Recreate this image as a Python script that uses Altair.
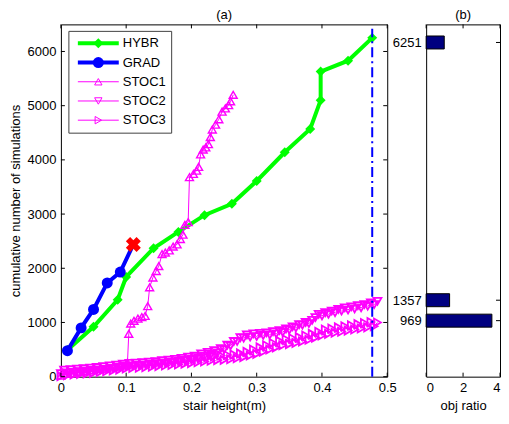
import altair as alt
import pandas as pd

# ---------------- data ----------------
HYBR_X = [0.010, 0.050, 0.087, 0.100, 0.142, 0.180, 0.220, 0.262, 0.300, 0.343, 0.382, 0.398, 0.398, 0.440, 0.477]
HYBR_Y = [490, 920, 1420, 1840, 2370, 2670, 2980, 3190, 3610, 4140, 4570, 5100, 5630, 5830, 6251]

GRAD_X = [0.010, 0.031, 0.050, 0.071, 0.091]
GRAD_Y = [480, 900, 1240, 1730, 1930]
GRAD_END_X = [0.111]
GRAD_END_Y = [2440]

STOC1_X = [0.000, 0.010, 0.020, 0.030, 0.040, 0.050, 0.060, 0.070, 0.080, 0.090,
           0.100, 0.102, 0.104, 0.107, 0.112, 0.118, 0.124, 0.129, 0.133, 0.136,
           0.141, 0.146, 0.150, 0.155, 0.160, 0.166, 0.172, 0.178, 0.183, 0.187,
           0.190, 0.195, 0.197, 0.203, 0.208, 0.211, 0.214, 0.218, 0.222, 0.226,
           0.229, 0.232, 0.237, 0.242, 0.247, 0.252, 0.257, 0.260, 0.264]
STOC1_Y = [20, 50, 60, 90, 100, 120, 140, 150, 170, 190,
           210, 260, 790, 980, 1030, 1070, 1100, 1120, 1300, 1650,
           1830, 1950, 2040, 2260, 2290, 2330, 2400, 2440, 2540, 2620,
           2800, 2850, 3680, 3740, 3800, 3870, 4100, 4190, 4230, 4290,
           4420, 4560, 4650, 4750, 4890, 4950, 5010, 5080, 5200]

STOC_X = [0.000, 0.005, 0.010, 0.015, 0.020, 0.025, 0.030, 0.035, 0.040, 0.045,
          0.050, 0.055, 0.060, 0.065, 0.070, 0.075, 0.080, 0.085, 0.090, 0.095,
          0.100, 0.105, 0.110, 0.115, 0.120, 0.125, 0.130, 0.135, 0.140, 0.145,
          0.150, 0.155, 0.160, 0.165, 0.170, 0.175, 0.180, 0.185, 0.190, 0.195,
          0.200, 0.205, 0.210, 0.215, 0.220, 0.225, 0.230, 0.235, 0.240, 0.245,
          0.250, 0.255, 0.260, 0.265, 0.270, 0.275, 0.280, 0.285, 0.290, 0.295,
          0.300, 0.305, 0.310, 0.315, 0.320, 0.325, 0.330, 0.335, 0.340, 0.345,
          0.350, 0.355, 0.360, 0.365, 0.370, 0.375, 0.380, 0.385, 0.390, 0.395,
          0.400, 0.405, 0.410, 0.415, 0.420, 0.425, 0.430, 0.435, 0.440, 0.445,
          0.450, 0.455, 0.460, 0.465, 0.470, 0.475, 0.480, 0.485]
STOC2_Y = [55, 120, 70, 130, 85, 140, 95, 150, 105, 160,
           115, 170, 125, 185, 140, 200, 155, 215, 170, 230,
           190, 245, 200, 250, 210, 260, 220, 270, 230, 280,
           240, 295, 255, 305, 270, 320, 285, 340, 300, 360,
           320, 380, 350, 420, 380, 450, 410, 480, 440, 520,
           500, 580, 570, 650, 650, 720, 710, 770, 730, 790,
           740, 800, 760, 810, 770, 830, 790, 850, 820, 880,
           860, 920, 900, 960, 950, 1000, 980, 1040, 1090, 1150,
           1120, 1180, 1150, 1210, 1180, 1240, 1210, 1270, 1230, 1290,
           1250, 1310, 1270, 1330, 1300, 1360, 1330, 1390]
STOC3_Y = [10, 80, 25, 95, 40, 105, 50, 115, 60, 125,
           70, 135, 85, 150, 100, 165, 115, 180, 130, 195,
           150, 205, 160, 215, 165, 225, 175, 235, 185, 245,
           195, 255, 205, 265, 215, 275, 225, 290, 240, 305,
           250, 320, 265, 335, 280, 355, 295, 375, 305, 390,
           310, 400, 320, 410, 340, 430, 360, 460, 390, 500,
           420, 540, 460, 580, 500, 620, 540, 660, 580, 690,
           600, 710, 620, 730, 650, 760, 680, 790, 720, 830,
           760, 870, 790, 890, 810, 910, 830, 930, 850, 950,
           870, 970, 890, 990, 910, 1010, 930, 1000]

VLINE_X = [0.477]
VLINE_Y = [0, 6420]

BAR_N = [6251, 1357, 969]
BAR_RATIO = [0.98, 1.27, 3.56]

LEGEND_LABELS = ["HYBR", "GRAD", "STOC1", "STOC2", "STOC3"]

X_TICKS_A = [0, 0.1, 0.2, 0.3, 0.4, 0.5]
Y_TICKS_A = [0, 1000, 2000, 3000, 4000, 5000, 6000]
X_TICKS_B = [0, 2, 4]

# ---------------- style ----------------
FONT = "Liberation Sans"
FS = 13
WA, WB, H = 327, 74, 353
TL = 4
GREEN, BLUE, MAG, RED, NAVY = "#00FF00", "#0000FF", "#FF00FF", "#FF0000", "#000080"

LEG_COLORS = [GREEN, BLUE, MAG, MAG, MAG]
LEG_SHAPES = ["diamond", "circle", "triangle-up", "triangle-down", "triangle-right"]
LEG_WIDTHS = [4, 4, 1, 1, 1]
LEG_FILLED = [True, True, False, False, False]
LEG_SIZES = [100, 121, 55, 55, 55]

sx_a = alt.Scale(domain=[0, 0.5], nice=False, zero=False)
sy = alt.Scale(domain=[0, 6500], nice=False, zero=False)
sx_b = alt.Scale(domain=[0, 4], nice=False, zero=False)

ax_xa = alt.Axis(values=X_TICKS_A, format="~g", title="stair height(m)", labelFlush=False)
ax_ya = alt.Axis(values=Y_TICKS_A, format="d", title="cumulative number of simulations")
ax_xb = alt.Axis(values=X_TICKS_B, format="d", title="obj ratio", labelFlush=True)
ax_yb = alt.Axis(values=BAR_N, format="d", title=None)


def XA(f):
    return alt.X(f, type="quantitative", scale=sx_a, axis=ax_xa)


def YA(f):
    return alt.Y(f, type="quantitative", scale=sy, axis=ax_ya)


def XB(f):
    return alt.X(f, type="quantitative", scale=sx_b, axis=ax_xb)


def YB(f):
    return alt.Y(f, type="quantitative", scale=sy, axis=ax_yb)


def frame(x, y):
    return pd.DataFrame({"x": x, "y": y, "i": list(range(len(x)))})


# ---------------- left panel ----------------
df_h = frame(HYBR_X, HYBR_Y)
df_g = frame(GRAD_X + GRAD_END_X, GRAD_Y + GRAD_END_Y)
df_gp = frame(GRAD_X, GRAD_Y)
df_ge = frame(GRAD_END_X, GRAD_END_Y)
df_s1 = frame(STOC1_X, STOC1_Y)
df_s2 = frame(STOC_X, STOC2_Y)
df_s3 = frame(STOC_X, STOC3_Y)

layers = []
layers.append(alt.Chart(df_h).mark_line(color=GREEN, strokeWidth=4).encode(x=XA("x"), y=YA("y"), order="i:Q"))
layers.append(alt.Chart(df_h).mark_point(shape="diamond", filled=True, size=100, color=GREEN, opacity=1).encode(x=XA("x"), y=YA("y")))
layers.append(alt.Chart(df_g).mark_line(color=BLUE, strokeWidth=4).encode(x=XA("x"), y=YA("y"), order="i:Q"))
layers.append(alt.Chart(df_gp).mark_point(shape="circle", filled=True, size=121, color=BLUE, opacity=1).encode(x=XA("x"), y=YA("y")))
layers.append(alt.Chart(df_ge).mark_point(shape="cross", angle=45, filled=True, size=230, color=RED, opacity=1).encode(x=XA("x"), y=YA("y")))
for dfs, shp, sw in [(df_s1, "triangle-up", 1.4), (df_s2, "triangle-down", 1.8), (df_s3, "triangle-right", 1.8)]:
    layers.append(alt.Chart(dfs).mark_line(color=MAG, strokeWidth=1).encode(x=XA("x"), y=YA("y"), order="i:Q"))
    layers.append(alt.Chart(dfs).mark_point(shape=shp, filled=False, size=64, color=MAG, opacity=1, strokeWidth=sw).encode(x=XA("x"), y=YA("y")))

df_v = pd.DataFrame({"x": VLINE_X, "y0": [VLINE_Y[0]], "y1": [VLINE_Y[1]]})
layers.append(alt.Chart(df_v).mark_rule(color=BLUE, strokeWidth=2, strokeDash=[10, 4, 2, 4]).encode(
    x=XA("x"), y=YA("y0"), y2=alt.Y2("y1")))

# inward ticks
df_xta = pd.DataFrame({"v": X_TICKS_A})
df_yta = pd.DataFrame({"v": Y_TICKS_A})
layers.append(alt.Chart(df_xta).mark_rule(color="black", strokeWidth=1).encode(x=XA("v"), y=alt.value(H), y2=alt.value(H - TL)))
layers.append(alt.Chart(df_xta).mark_rule(color="black", strokeWidth=1).encode(x=XA("v"), y=alt.value(0), y2=alt.value(TL)))
layers.append(alt.Chart(df_yta).mark_rule(color="black", strokeWidth=1).encode(y=YA("v"), x=alt.value(0), x2=alt.value(TL)))
layers.append(alt.Chart(df_yta).mark_rule(color="black", strokeWidth=1).encode(y=YA("v"), x=alt.value(WA - TL), x2=alt.value(WA)))

# legend
layers.append(alt.Chart(pd.DataFrame({"k": [0]})).mark_rect(fill="white", stroke="#404040", strokeWidth=1).encode(
    x=alt.value(8), x2=alt.value(111), y=alt.value(7), y2=alt.value(109)))
for i, lab in enumerate(LEGEND_LABELS):
    ry = 19 + 19.25 * i
    base = alt.Chart(pd.DataFrame({"label": [lab]}))
    layers.append(base.mark_rule(color=LEG_COLORS[i], strokeWidth=LEG_WIDTHS[i]).encode(
        x=alt.value(17), x2=alt.value(58), y=alt.value(ry)))
    layers.append(base.mark_point(shape=LEG_SHAPES[i], filled=LEG_FILLED[i], size=LEG_SIZES[i],
                                  color=LEG_COLORS[i], opacity=1, strokeWidth=1).encode(
        x=alt.value(37.5), y=alt.value(ry)))
    layers.append(base.mark_text(align="left", baseline="middle", font=FONT, fontSize=FS, color="black").encode(
        x=alt.value(62), y=alt.value(ry), text="label:N"))

left = alt.layer(*layers).properties(width=WA, height=H, title="(a)")

# ---------------- right panel ----------------
df_b = pd.DataFrame({"n": BAR_N, "r": BAR_RATIO})
df_xtb = pd.DataFrame({"v": X_TICKS_B})
df_ytb = pd.DataFrame({"v": BAR_N})
rlayers = [
    alt.Chart(df_b).mark_bar(orient="horizontal", size=13, color=NAVY, stroke="black", strokeWidth=1).encode(
        x=XB("r"), x2=alt.X2(datum=0), y=YB("n")),
    alt.Chart(df_xtb).mark_rule(color="black", strokeWidth=1).encode(x=XB("v"), y=alt.value(H), y2=alt.value(H - TL)),
    alt.Chart(df_xtb).mark_rule(color="black", strokeWidth=1).encode(x=XB("v"), y=alt.value(0), y2=alt.value(TL)),
    alt.Chart(df_ytb).mark_rule(color="black", strokeWidth=1).encode(y=YB("v"), x=alt.value(WB - TL), x2=alt.value(WB)),
]
right = alt.layer(*rlayers).properties(width=WB, height=H, title="(b)")

chart = alt.hconcat(left, right, spacing=39, bounds="flush").properties(padding=0).configure_axis(
    labelFont=FONT, titleFont=FONT, labelFontSize=FS, titleFontSize=FS, titleFontWeight="normal",
    labelColor="black", titleColor="black", grid=False, domain=False, ticks=False, tickSize=0,
    labelPadding=5, titlePadding=5,
).configure_view(stroke="black", strokeWidth=1).configure_title(
    font=FONT, fontSize=FS, fontWeight="normal", color="black", offset=2, anchor="middle"
)

chart.save("out.html", embed_options={"renderer": "svg", "actions": False})
